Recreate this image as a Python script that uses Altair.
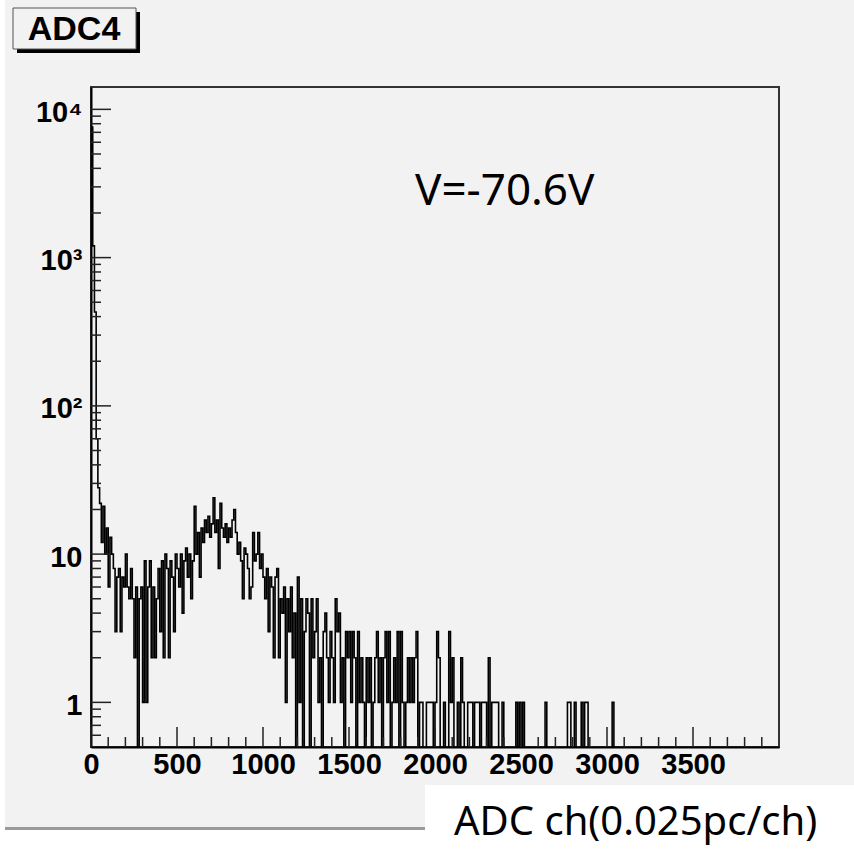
import altair as alt
import pandas as pd

# ---------------- data ----------------
TITLE = "ADC4"
ANNOTATION = "V=-70.6V"
X_TITLE = "ADC ch(0.025pc/ch)"
BIN_WIDTH = 10  # ADC channels per histogram bin

COUNTS = [
    7600, 1200, 430, 60, 28, 22, 12, 21, 10, 15,
    6, 13, 10, 8, 3, 7, 8, 3, 7, 6,
    10, 6, 5, 8, 5, 2, 6, 0, 5, 6,
    1, 9, 1, 6, 9, 2, 6, 2, 5, 8,
    3, 9, 2, 10, 8, 2, 9, 7, 3, 10,
    8, 6, 10, 4, 9, 11, 7, 10, 5, 9,
    21, 10, 14, 7, 15, 12, 17, 14, 18, 13,
    16, 24, 14, 17, 8, 22, 15, 13, 16, 12,
    15, 13, 17, 20, 14, 10, 12, 9, 5, 11,
    10, 8, 5, 6, 14, 9, 10, 14, 8, 10,
    7, 5, 8, 3, 7, 6, 2, 7, 8, 2,
    5, 4, 6, 1, 5, 3, 6, 2, 4, 0,
    7, 1, 5, 0, 3, 5, 4, 0, 5, 2,
    3, 5, 1, 2, 0, 3, 4, 2, 1, 3,
    2, 1, 5, 3, 4, 1, 2, 0, 3, 2,
    3, 1, 3, 2, 0, 3, 1, 2, 1, 0,
    2, 1, 2, 0, 1, 2, 3, 1, 2, 0,
    2, 3, 1, 3, 0, 1, 2, 1, 3, 0,
    3, 1, 0, 1, 2, 1, 2, 1, 2, 3,
    0, 1, 1, 0, 0, 1, 1, 1, 1, 0,
    1, 3, 2, 0, 0, 1, 0, 0, 3, 1,
    2, 0, 0, 1, 0, 2, 1, 0, 0, 1,
    1, 1, 0, 1, 1, 1, 0, 1, 1, 1,
    0, 2, 0, 1, 1, 1, 1, 0, 0, 1,
    0, 0, 0, 0, 0, 0, 0, 1, 0, 1,
    0, 1, 0, 0, 0, 0, 0, 0, 0, 0,
    0, 0, 0, 0, 1, 0, 0, 0, 0, 0,
    0, 0, 0, 0, 0, 0, 0, 1, 1, 0,
    0, 1, 0, 0, 0, 1, 0, 1, 1, 0,
    0, 0, 0, 0, 0, 0, 0, 0, 0, 0,
    0, 0, 0, 1, 0, 0, 0, 0, 0, 0,
]

X_LABEL_VALUES = [0, 500, 1000, 1500, 2000, 2500, 3000, 3500]
X_MINOR_VALUES = [v for v in range(100, 4000, 100) if v % 500 != 0]
Y_LABEL_VALUES = [1, 10, 100, 1000, 10000]
Y_LABEL_TEXT = ["1", "10", "10\u00b2", "10\u00b3", "10\u2074"]
Y_MINOR_VALUES = [0.6, 0.7, 0.8, 0.9] + [k * d for d in (1, 10, 100, 1000) for k in range(2, 10)]
X_DOMAIN = [0, 4000]
Y_DOMAIN = [0.5, 14150]

# ---------------- layout ----------------
W, H = 688, 660
PAD = {"left": 91, "top": 87, "right": 75, "bottom": 102}
FLOOR = 0.1  # empty bins are drawn down to (below) the frame bottom

edges = [i * BIN_WIDTH for i in range(len(COUNTS) + 1)]
vals = [c if c > 0 else FLOOR for c in COUNTS]
hist = pd.DataFrame({"x": edges, "y": vals + [vals[-1]]})

xscale = alt.Scale(domain=X_DOMAIN, nice=False, zero=False)
yscale = alt.Scale(type="log", domain=Y_DOMAIN, nice=False)

label_expr = ""
for v, t in zip(Y_LABEL_VALUES, Y_LABEL_TEXT):
    label_expr += f"abs(datum.value - {v}) < {v * 0.01} ? '{t}' : "
label_expr += "''"

AX_FONT = "Liberation Sans"
XAXIS = alt.Axis(
    values=X_LABEL_VALUES, title=None, grid=False, ticks=False, tickSize=0,
    labelFont=AX_FONT, labelFontSize=29, labelFontWeight="bold", labelColor="black",
    labelPadding=3, labelFlush=False, labelOverlap=False, labelBound=False,
    domainColor="black", domainWidth=2, format="d")
YAXIS = alt.Axis(
    values=Y_LABEL_VALUES, labelExpr=label_expr, title=None, grid=False, ticks=False, tickSize=0,
    labelFont=AX_FONT, labelFontSize=29, labelFontWeight="bold", labelColor="black",
    labelPadding=9, labelFlush=False, labelOverlap=False, labelBound=False, labelOffset=3,
    domainColor="black", domainWidth=2)

one = pd.DataFrame({"t": [""]})

def box(x, x2, y, y2, color, **kw):
    return alt.Chart(one).mark_rect(color=color, **kw).encode(
        x=alt.value(x), x2=alt.value(x2), y=alt.value(y), y2=alt.value(y2)
    )

# white parts of the picture outside the grey canvas
white_left = box(-91, -86, -87, 762, "white")
white_bottom = box(-91, 763, 743, 762, "white")
shadow_line = box(-86, 334, 740, 743, "#9a9a9a")
white_label_box = box(334, 763, 698, 762, "white")

# title box with drop shadow
title_shadow = box(-74, 49, -75, -34, "black")
title_box = alt.Chart(one).mark_rect(fill="#f2f2f2", stroke="#555555", strokeWidth=1).encode(
    x=alt.value(-78), x2=alt.value(45), y=alt.value(-79), y2=alt.value(-38)
)
title_text = alt.Chart(pd.DataFrame({"t": [TITLE]})).mark_text(
    font=AX_FONT, fontWeight="bold", fontSize=34, color="black", align="center", baseline="middle"
).encode(text="t:N", x=alt.value(-17), y=alt.value(-57))

line = alt.Chart(hist).mark_line(
    interpolate="step-after", color="black", strokeWidth=1.6, clip=True
).encode(
    x=alt.X("x:Q", scale=xscale, axis=XAXIS),
    y=alt.Y("y:Q", scale=yscale, axis=YAXIS),
)

TICK_COLOR = "#222222"
x_major = alt.Chart(pd.DataFrame({"v": X_LABEL_VALUES})).mark_rule(color=TICK_COLOR, strokeWidth=1.5).encode(
    x=alt.X("v:Q", scale=xscale, axis=XAXIS), y=alt.value(H), y2=alt.value(H - 20))
x_minor = alt.Chart(pd.DataFrame({"v": X_MINOR_VALUES})).mark_rule(color=TICK_COLOR, strokeWidth=1.5).encode(
    x=alt.X("v:Q", scale=xscale, axis=XAXIS), y=alt.value(H), y2=alt.value(H - 10))
y_major = alt.Chart(pd.DataFrame({"v": Y_LABEL_VALUES})).mark_rule(color=TICK_COLOR, strokeWidth=1.5).encode(
    y=alt.Y("v:Q", scale=yscale, axis=YAXIS), x=alt.value(0), x2=alt.value(20))
y_minor = alt.Chart(pd.DataFrame({"v": Y_MINOR_VALUES})).mark_rule(color=TICK_COLOR, strokeWidth=1.5).encode(
    y=alt.Y("v:Q", scale=yscale, axis=YAXIS), x=alt.value(0), x2=alt.value(10))

annot = alt.Chart(pd.DataFrame({"t": [ANNOTATION]})).mark_text(
    font="Noto Sans", fontSize=44, color="black", align="left", baseline="alphabetic"
).encode(text="t:N", x=alt.value(324), y=alt.value(118))

xtitle = alt.Chart(pd.DataFrame({"t": [X_TITLE]})).mark_text(
    font="Noto Sans", fontSize=40, color="black", align="left", baseline="alphabetic"
).encode(text="t:N", x=alt.value(363), y=alt.value(748))

chart = alt.layer(
    white_left, white_bottom, shadow_line, white_label_box,
    title_shadow, title_box, title_text,
    line, x_major, x_minor, y_major, y_minor,
    annot, xtitle,
).properties(
    width=W, height=H, padding=PAD,
    autosize=alt.AutoSizeParams(type="none"),
    background="#f2f2f2",
).configure_view(stroke="#333333", strokeWidth=2)

chart.save("out.html", embed_options={"renderer": "svg", "actions": False})
